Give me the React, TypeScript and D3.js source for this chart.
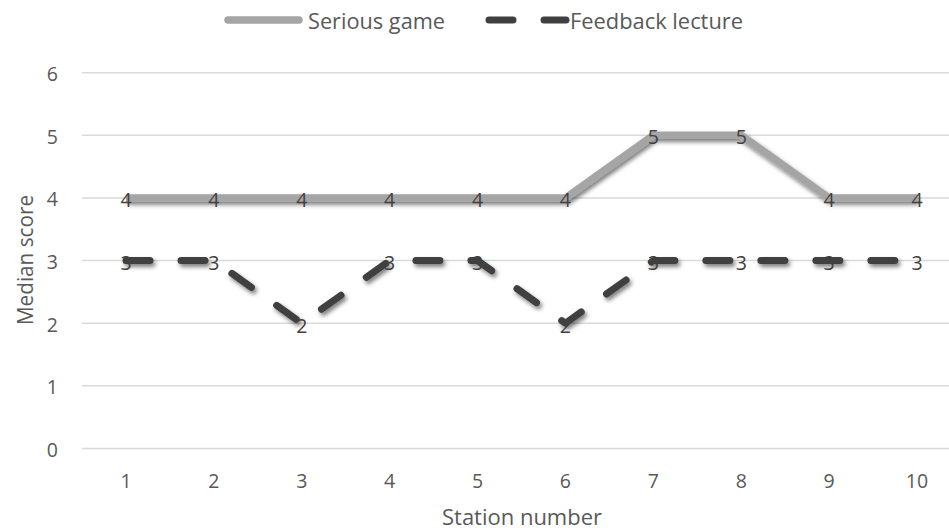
import React from "react";
import * as d3 from "d3";

const stations = ["1", "2", "3", "4", "5", "6", "7", "8", "9", "10"];
const seriousGame = [4, 4, 4, 4, 4, 4, 5, 5, 4, 4];
const feedbackLecture = [3, 3, 2, 3, 3, 2, 3, 3, 3, 3];
const yTicks = [0, 1, 2, 3, 4, 5, 6];

const W = 949;
const H = 531;
const FONT = "'Open Sans', 'Noto Sans', sans-serif";

export default function App() {
  const x = d3.scalePoint<string>().domain(stations).range([126, 917]);
  const y = d3.scaleLinear().domain([0, 6]).range([448.5, 72.7]);
  const line = d3
    .line<number>()
    .x((_, i) => x(stations[i]) as number)
    .y((d) => y(d));

  return (
    <svg
      width={W}
      height={H}
      style={{ position: "absolute", left: 0, top: 0, background: "#fff" }}
    >
      <defs>
        <filter id="shadow" x="-10%" y="-30%" width="120%" height="180%">
          <feDropShadow dx="2" dy="3" stdDeviation="2" floodColor="#000" floodOpacity="0.5" />
        </filter>
      </defs>
      <rect width={W} height={H} fill="#fff" />
      {/* gridlines */}
      {yTicks.map((t) => (
        <line key={t} x1={82} x2={W} y1={y(t)} y2={y(t)} stroke="#d9d9d9" strokeWidth={1.5} />
      ))}
      {/* y tick labels */}
      {yTicks.map((t) => (
        <text
          key={"yl" + t}
          x={58}
          y={y(t) + 8.5}
          textAnchor="end"
          fontFamily={FONT}
          fontSize={19.5}
          fill="#595959"
        >
          {t}
        </text>
      ))}
      {/* x tick labels */}
      {stations.map((s) => (
        <text
          key={"xl" + s}
          x={x(s)}
          y={488}
          textAnchor="middle"
          fontFamily={FONT}
          fontSize={19.5}
          fill="#595959"
        >
          {s}
        </text>
      ))}
      {/* axis titles */}
      <text
        x={522}
        y={525}
        textAnchor="middle"
        fontFamily={FONT}
        fontSize={22}
        fill="#595959"
        textLength={160}
        lengthAdjust="spacingAndGlyphs"
      >
        Station number
      </text>
      <text
        transform="translate(33,260) rotate(-90)"
        textAnchor="middle"
        fontFamily={FONT}
        fontSize={22}
        fill="#595959"
        textLength={130}
        lengthAdjust="spacingAndGlyphs"
      >
        Median score
      </text>
      {/* series lines */}
      <path
        d={line(seriousGame) || ""}
        fill="none"
        stroke="#a5a5a5"
        strokeWidth={7.5}
        strokeLinejoin="round"
        filter="url(#shadow)"
      />
      <path
        d={line(feedbackLecture) || ""}
        fill="none"
        stroke="#404040"
        strokeWidth={7}
        strokeDasharray="24 31"
        strokeLinecap="round"
        strokeLinejoin="round"
        filter="url(#shadow)"
      />
      {/* data labels */}
      {seriousGame.map((v, i) => (
        <text
          key={"sg" + i}
          x={x(stations[i])}
          y={y(v) + 9}
          textAnchor="middle"
          fontFamily={FONT}
          fontSize={19.5}
          fill="#404040"
        >
          {v}
        </text>
      ))}
      {feedbackLecture.map((v, i) => (
        <text
          key={"fl" + i}
          x={x(stations[i])}
          y={y(v) + 9.5}
          textAnchor="middle"
          fontFamily={FONT}
          fontSize={19.5}
          fill="#404040"
        >
          {v}
        </text>
      ))}
      {/* legend */}
      <g>
        <line x1={228} x2={299} y1={20} y2={20} stroke="#a5a5a5" strokeWidth={7.5} strokeLinecap="round" />
        <text
          x={308}
          y={29}
          fontFamily={FONT}
          fontSize={22.5}
          fill="#595959"
          textLength={137}
          lengthAdjust="spacingAndGlyphs"
        >
          Serious game
        </text>
        <line
          x1={489}
          x2={566}
          y1={20}
          y2={20}
          stroke="#404040"
          strokeWidth={7}
          strokeDasharray="24 31"
          strokeLinecap="round"
        />
        <text
          x={570}
          y={29}
          fontFamily={FONT}
          fontSize={22.5}
          fill="#595959"
          textLength={173}
          lengthAdjust="spacingAndGlyphs"
        >
          Feedback lecture
        </text>
      </g>
    </svg>
  );
}
